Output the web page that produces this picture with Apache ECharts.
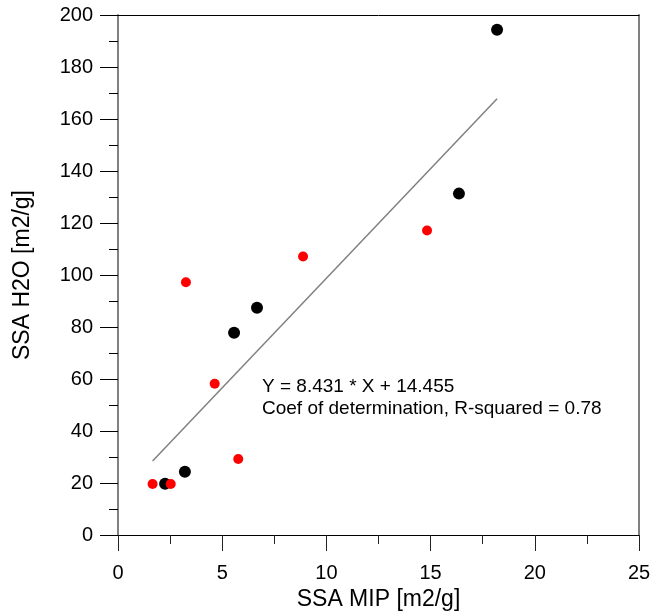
<!DOCTYPE html>
<html>
<head>
<meta charset="utf-8">
<script src="https://cdn.jsdelivr.net/npm/echarts@6/dist/echarts.min.js"></script>
<style>
  html, body { margin: 0; padding: 0; background: #fff; }
  #chart { width: 650px; height: 612px; }
</style>
</head>
<body>
<div id="chart"></div>
<script>
// black points
var blackX = [18.19, 16.36, 6.67, 5.57, 3.21, 2.26];
var blackY = [194.3, 131.3, 87.4, 77.8, 24.3, 19.7];
// red points
var redX = [1.66, 2.53, 5.77, 3.26, 4.64, 8.88, 14.83];
var redY = [19.6, 19.6, 29.2, 97.2, 58.2, 107.1, 117.1];
// fitted line from the legend text
var slope = 8.431, intercept = 14.455;
var fitX = [1.66, 18.19];
var fitText = ['Y = 8.431 * X + 14.455', 'Coef of determination, R-squared = 0.78'];

var font = '"Liberation Sans", Arial, sans-serif';

function pairs(xs, ys) {
    var out = [];
    for (var i = 0; i < xs.length; i++) out.push([xs[i], ys[i]]);
    return out;
}

var fitData = fitX.map(function (x) { return [x, slope * x + intercept]; });

var _chart = echarts.init(document.getElementById('chart'), null, {renderer: 'canvas'});
var _options = {
    animation: false,
    backgroundColor: '#fff',
    textStyle: {fontFamily: font},
    grid: {left: 118, right: 11, top: 15, bottom: 77, containLabel: false, outerBoundsMode: 'none'},
    xAxis: [{
        type: 'value', min: 0, max: 25, interval: 5,
        name: 'SSA MIP [m2/g]', nameLocation: 'middle', nameGap: 52,
        nameTextStyle: {fontFamily: font, fontSize: 23, color: '#000'},
        axisLine: {show: true, onZero: false, lineStyle: {color: '#000', width: 1}},
        axisTick: {show: true, inside: false, length: 16, lineStyle: {color: '#222', width: 1}},
        minorTick: {show: true, splitNumber: 2, length: 9, lineStyle: {color: '#222', width: 1}},
        axisLabel: {fontFamily: font, fontSize: 20, color: '#000', margin: 28},
        splitLine: {show: false}
    }, {
        type: 'value', min: 0, max: 25, position: 'top',
        axisLine: {show: true, onZero: false, lineStyle: {color: '#000', width: 1}},
        axisTick: {show: false}, axisLabel: {show: false}, splitLine: {show: false}
    }],
    yAxis: [{
        type: 'value', min: 0, max: 200, interval: 20,
        name: 'SSA H2O [m2/g]', nameLocation: 'middle', nameGap: 84,
        nameTextStyle: {fontFamily: font, fontSize: 23, color: '#000'},
        axisLine: {show: true, onZero: false, lineStyle: {color: '#808080', width: 2}},
        axisTick: {show: true, inside: false, length: 18, lineStyle: {color: '#000', width: 1}},
        minorTick: {show: true, splitNumber: 2, length: 9, lineStyle: {color: '#000', width: 1}},
        axisLabel: {fontFamily: font, fontSize: 20, color: '#000', margin: 25},
        splitLine: {show: false}
    }, {
        type: 'value', min: 0, max: 200, position: 'right',
        axisLine: {show: true, onZero: false, lineStyle: {color: '#808080', width: 2}},
        axisTick: {show: false}, axisLabel: {show: false}, splitLine: {show: false}
    }],
    graphic: [{
        type: 'text', left: 262, top: 376,
        style: {text: fitText.join('\n'), font: '19px ' + font, fill: '#000', lineHeight: 22}
    }],
    series: [{
        name: 'fit', type: 'line', data: fitData, showSymbol: false, silent: true,
        lineStyle: {color: '#808080', width: 1.5}, z: 1
    }, {
        name: 'black', type: 'scatter', data: pairs(blackX, blackY),
        symbolSize: 12, itemStyle: {color: '#000', opacity: 1}, z: 3
    }, {
        name: 'red', type: 'scatter', data: pairs(redX, redY),
        symbolSize: 10, itemStyle: {color: '#ff0000', opacity: 1}, z: 3
    }]
};
_chart.setOption(_options);
</script>
</body>
</html>
